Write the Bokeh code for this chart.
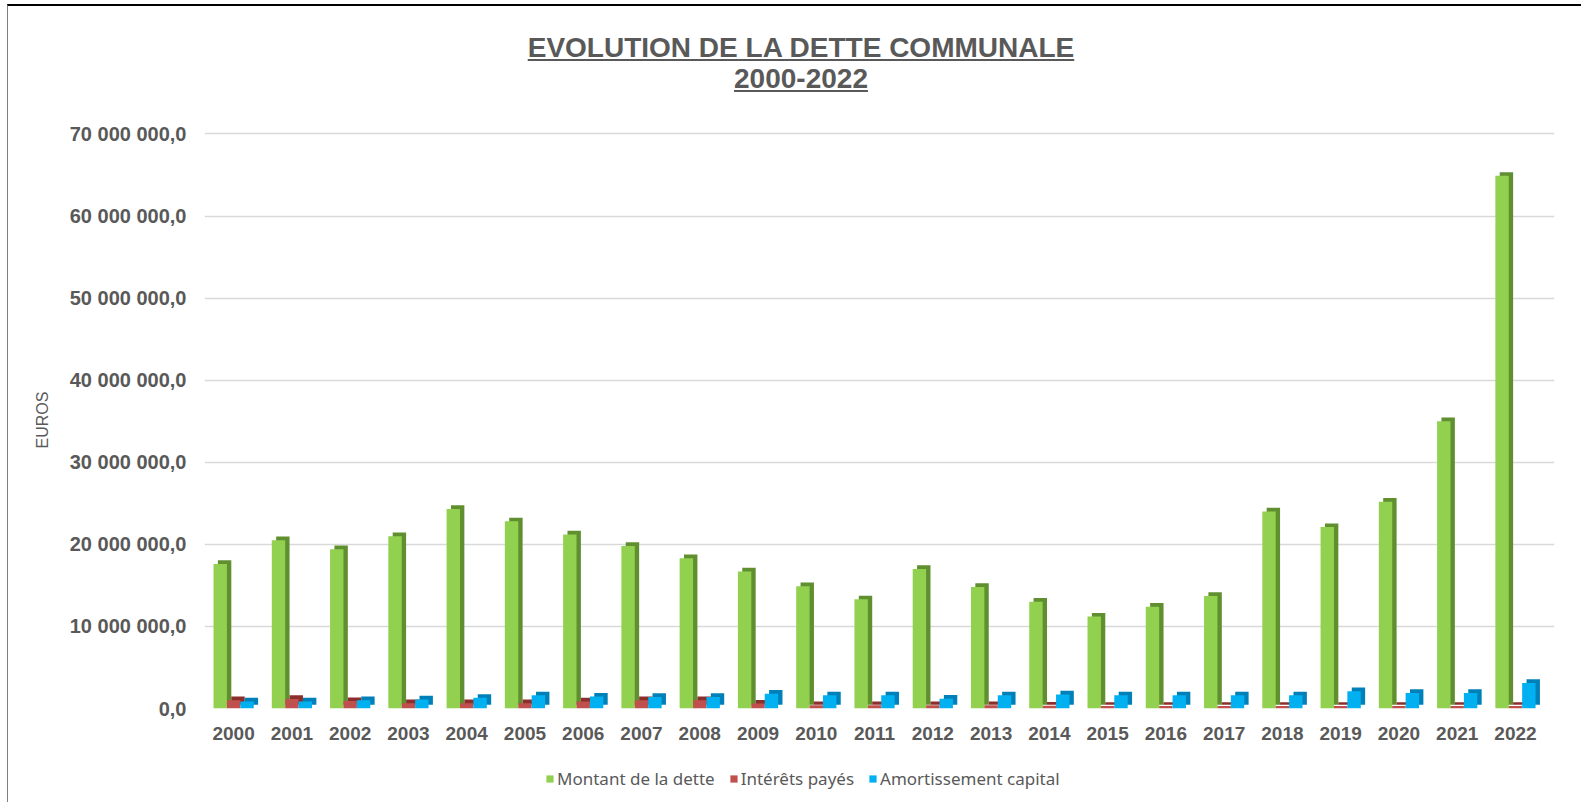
from bokeh.plotting import figure
from bokeh.models import Range1d, FixedTicker, Legend, LegendItem, Div, ColumnDataSource
from bokeh.layouts import column
from bokeh.embed import file_html
from bokeh.resources import INLINE

# ---- data ----
years = [2000, 2001, 2002, 2003, 2004, 2005, 2006, 2007, 2008, 2009, 2010, 2011,
         2012, 2013, 2014, 2015, 2016, 2017, 2018, 2019, 2020, 2021, 2022]
montant_dette = [17600000, 20500000, 19400000, 21000000, 24300000, 22800000, 21200000,
                 19800000, 18300000, 16700000, 14900000, 13300000, 17000000, 14800000,
                 13000000, 11200000, 12400000, 13700000, 24000000, 22100000, 25200000,
                 35000000, 64900000]
interets_payes = [1000000, 1150000, 900000, 650000, 650000, 650000, 850000, 1000000,
                  1000000, 600000, 400000, 400000, 400000, 400000, 350000, 300000,
                  300000, 300000, 300000, 300000, 300000, 300000, 300000]
amortissement_capital = [850000, 850000, 1000000, 1100000, 1300000, 1600000, 1450000,
                         1400000, 1400000, 1800000, 1600000, 1600000, 1200000, 1600000,
                         1700000, 1600000, 1600000, 1600000, 1600000, 2100000, 1900000,
                         1900000, 3100000]
series_names = ["Montant de la dette", "Intérêts payés", "Amortissement capital"]
y_ticks = [0, 10000000, 20000000, 30000000, 40000000, 50000000, 60000000, 70000000]

# ---- styling ----
front_colors = ["#92D050", "#C0504D", "#00B0F0"]
side_colors = ["#5F8F2F", "#8C2F2C", "#0080B8"]
offsets = [-0.23, 0.0, 0.23]
bar_w = 0.23
depth_x = 0.075
depth_y = 450000
TXT = "#595959"
BORDER_L, BORDER_R = 196, 19
X_PAD_RIGHT = 0.17

def fmt(v):
    return f"{v:,.1f}".replace(",", " ").replace(".", ",")

idx = list(range(len(years)))

p = figure(width=1565, height=642, x_range=Range1d(-0.5, len(years) - 0.5 + X_PAD_RIGHT),
           y_range=Range1d(0, 70300000), output_backend="svg", toolbar_location=None,
           min_border_left=BORDER_L, min_border_right=BORDER_R, min_border_top=19,
           min_border_bottom=46)

for vals, off, fc, sc in zip([montant_dette, interets_payes, amortissement_capital],
                             offsets, front_colors, side_colors):
    src = ColumnDataSource(dict(
        x=[i + off for i in idx],
        xs=[i + off + depth_x for i in idx],
        top=vals,
        top_s=[v + depth_y for v in vals],
    ))
    p.vbar(x="xs", width=bar_w, bottom=depth_y, top="top_s", source=src,
           fill_color=sc, line_color=None)
    p.vbar(x="x", width=bar_w, bottom=0, top="top", source=src,
           fill_color=fc, line_color=None)

p.outline_line_color = None
p.background_fill_color = "white"
p.border_fill_color = "white"
p.xgrid.visible = False
p.ygrid.grid_line_color = "#D9D9D9"
p.ygrid.grid_line_width = 1.5

p.yaxis.ticker = FixedTicker(ticks=y_ticks)
p.yaxis.major_label_overrides = {t: fmt(t) for t in y_ticks}
p.xaxis.ticker = FixedTicker(ticks=idx)
p.xaxis.major_label_overrides = {i: str(y) for i, y in zip(idx, years)}

for ax in (p.xaxis[0], p.yaxis[0]):
    ax.axis_line_color = None
    ax.major_tick_line_color = None
    ax.minor_tick_line_color = None
    ax.major_tick_out = 0
    ax.major_tick_in = 0
    ax.major_label_text_font = "Liberation Sans"
    ax.major_label_text_font_style = "bold"
    ax.major_label_text_color = TXT

p.yaxis.major_label_text_font_size = "20px"
p.yaxis.major_label_standoff = 18
p.yaxis.axis_label = "EUROS"
p.yaxis.axis_label_text_font = "Liberation Sans"
p.yaxis.axis_label_text_font_style = "normal"
p.yaxis.axis_label_text_font_size = "16px"
p.yaxis.axis_label_text_color = TXT
p.yaxis.axis_label_standoff = 16

p.xaxis.major_label_text_font_size = "19px"
p.xaxis.major_label_standoff = 18

# ---- legend strip (separate small figure below the chart) ----
lg = figure(width=1565, height=48, x_range=Range1d(0, 1), y_range=Range1d(0, 1),
            output_backend="svg", toolbar_location=None, min_border=0,
            min_border_left=BORDER_L, min_border_right=BORDER_R)
lg.axis.visible = False
lg.grid.visible = False
lg.outline_line_color = None
# legend proxies: zero-height bars that draw nothing in the strip itself
legend_renderers = [lg.vbar(x=[0.5], top=[0], bottom=[0], width=0.01, fill_color=fc, line_color=None)
                    for fc in front_colors]
legend = Legend(items=[LegendItem(label=n, renderers=[r]) for n, r in zip(series_names, legend_renderers)],
                orientation="horizontal", location=(341, 12),
                border_line_color=None, background_fill_alpha=0,
                label_text_font="Noto Sans", label_text_font_size="17px",
                label_text_color=TXT, glyph_width=9, glyph_height=9,
                label_standoff=3, spacing=14, padding=0, margin=0)
lg.add_layout(legend, "center")

title = Div(
    text=('<div style="width:1565px; box-sizing:border-box; padding-left:11px; padding-top:21px; '
          'text-align:center; font-family:\'Liberation Sans\', Arial, sans-serif; font-weight:bold; '
          'font-size:28px; line-height:31px; color:#595959;">'
          '<u>EVOLUTION DE LA DETTE COMMUNALE</u><br><u>2000-2022</u></div>'),
    width=1565, height=96)

layout = column(title, p, lg, spacing=0,
                styles={"border-top": "2px solid #000000", "border-left": "1px solid #808080",
                        "margin-left": "7px", "margin-top": "4px"})

open("out.html", "w").write(file_html(layout, INLINE))
